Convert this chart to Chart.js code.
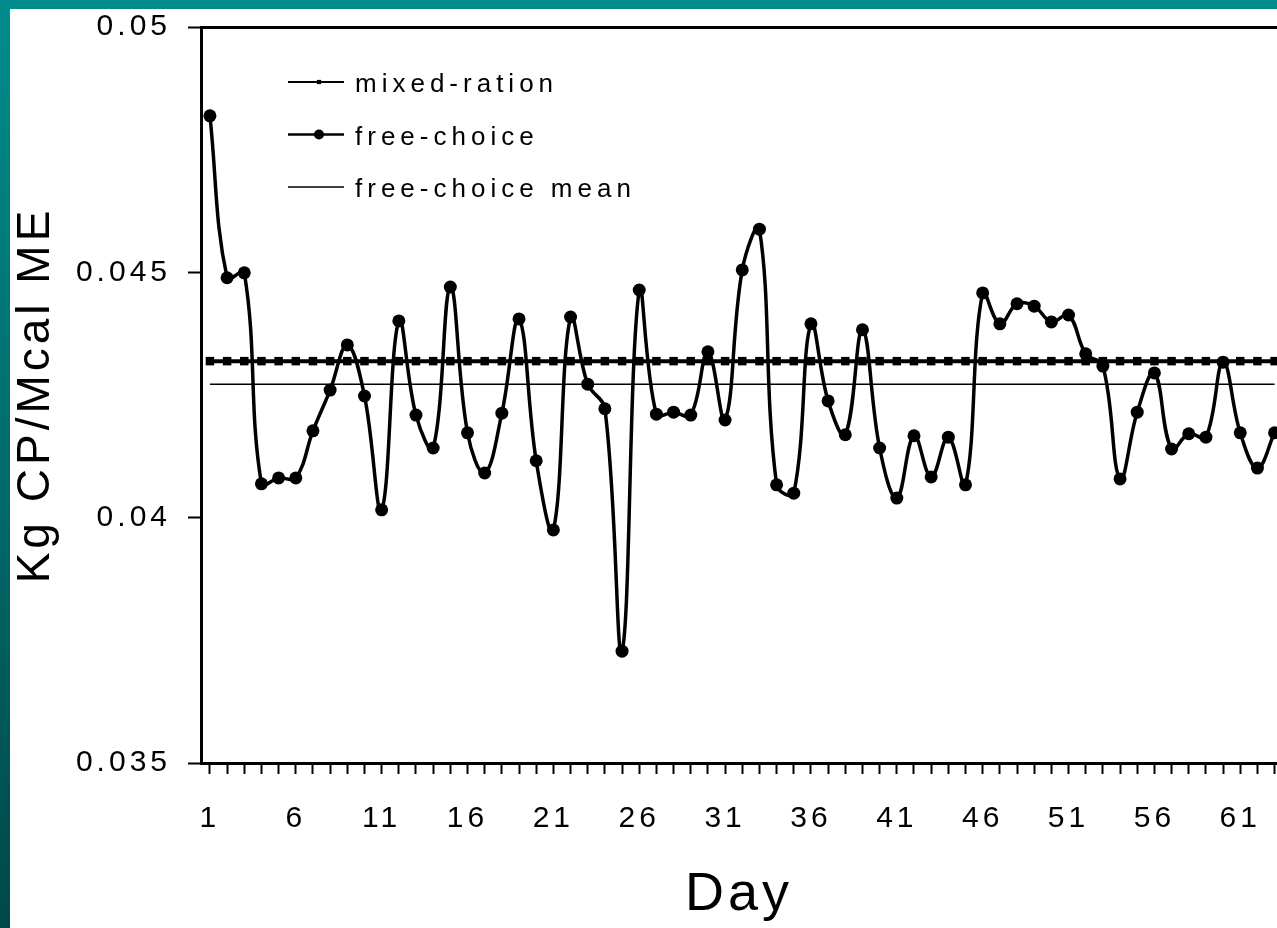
<!DOCTYPE html>
<html>
<head>
<meta charset="utf-8">
<script src="https://cdn.jsdelivr.net/npm/chart.js@4.4.1/dist/chart.umd.min.js"></script>
<style>
  html, body { margin: 0; padding: 0; }
  body {
    width: 1277px; height: 928px; overflow: hidden; position: relative;
    background: linear-gradient(to bottom, #008c8c 0%, #006c6c 50%, #004848 100%);
  }
  .panel { position: absolute; left: 10px; top: 9px; right: 0; bottom: 0; background: #fff; }
  #chart { position: absolute; left: 0; top: 0; }
</style>
</head>
<body>
<div class="panel"></div>
<canvas id="chart" width="1277" height="928"></canvas>
<script>
const FONT = '"Liberation Sans", Arial, Helvetica, sans-serif'

// day index on the x axis
const days = Array.from({ length: 63 }, (_, i) => i + 1)
const xTickLabels = [1, 6, 11, 16, 21, 26, 31, 36, 41, 46, 51, 56, 61]
const yTicks = [0.035, 0.04, 0.045, 0.05]

// Kg CP / Mcal ME per day
const freeChoice = [
  0.04819, 0.04489, 0.04499, 0.04069, 0.04081, 0.04081, 0.04177, 0.04260, 0.04352, 0.04248,
  0.04016, 0.04401, 0.04209, 0.04142, 0.04470, 0.04173, 0.04091, 0.04213, 0.04405, 0.04116,
  0.03975, 0.04409, 0.04272, 0.04222, 0.03728, 0.04464, 0.04211, 0.04215, 0.04209, 0.04338,
  0.04199, 0.04505, 0.04588, 0.04067, 0.04050, 0.04395, 0.04238, 0.04169, 0.04383, 0.04142,
  0.04040, 0.04167, 0.04083, 0.04164, 0.04067, 0.04458, 0.04395, 0.04436, 0.04431, 0.04399,
  0.04413, 0.04334, 0.04309, 0.04079, 0.04215, 0.04295, 0.04140, 0.04171, 0.04164, 0.04317,
  0.04173, 0.04101, 0.04173
]
const mixedRation = 0.04319
const freeChoiceMean = 0.04272

const seriesLabels = ['mixed-ration', 'free-choice', 'free-choice mean']

// canvas letter spacing for axis text
const spacedText = {
  id: 'spacedText',
  beforeDraw(chart) {
    chart.ctx.letterSpacing = '4px'
  }
}

// legend sits inside the plot, one row per series
const innerLegend = {
  id: 'innerLegend',
  afterDraw(chart) {
    const { ctx, chartArea } = chart
    ctx.save()
    ctx.letterSpacing = '5px'
    ctx.font = '26px ' + FONT
    ctx.textAlign = 'left'
    ctx.textBaseline = 'alphabetic'
    chart.data.datasets.forEach((ds, i) => {
      const y = chartArea.top + 55 + i * 52.5
      const x0 = chartArea.left + 87
      const x1 = chartArea.left + 143
      ctx.strokeStyle = '#000'
      ctx.fillStyle = '#000'
      ctx.lineWidth = ds.legendLineWidth
      ctx.beginPath()
      ctx.moveTo(x0, y)
      ctx.lineTo(x1, y)
      ctx.stroke()
      if (ds.legendMarker) {
        Chart.helpers.drawPoint(ctx, {
          pointStyle: ds.pointStyle, radius: ds.legendMarker, rotation: 0, borderWidth: 0
        }, x0 + 31, y)
      }
      ctx.fillText(ds.label, chartArea.left + 154, y + 10)
    })
    ctx.restore()
  }
}

// keep the plot flush with the top margin and the right edge
const noEdgePadding = axis => {
  axis.paddingTop = 0
  axis.paddingBottom = 0
  axis.paddingLeft = 0
  axis.paddingRight = 0
}

const ctx = document.getElementById('chart').getContext('2d')

new Chart(ctx, {
  type: 'line',
  data: {
    datasets: [
      {
        label: seriesLabels[0],
        data: days.map(d => ({ x: d, y: mixedRation })),
        borderColor: '#000',
        backgroundColor: '#000',
        borderWidth: 4,
        pointStyle: 'rect',
        pointRadius: 6,
        pointBorderWidth: 0,
        tension: 0,
        order: 1,
        legendLineWidth: 2,
        legendMarker: 3
      },
      {
        label: seriesLabels[1],
        data: days.map((d, i) => ({ x: d, y: freeChoice[i] })),
        borderColor: '#000',
        backgroundColor: '#000',
        borderWidth: 3.5,
        pointStyle: 'circle',
        pointRadius: 6.5,
        pointBorderWidth: 0,
        tension: 0.4,
        order: 0,
        legendLineWidth: 2.5,
        legendMarker: 5
      },
      {
        label: seriesLabels[2],
        data: days.map(d => ({ x: d, y: freeChoiceMean })),
        borderColor: '#000',
        borderWidth: 1.5,
        pointRadius: 0,
        tension: 0,
        order: 2,
        legendLineWidth: 1.5,
        legendMarker: 0
      }
    ]
  },
  options: {
    responsive: false,
    animation: false,
    layout: { autoPadding: false, padding: { top: 27, left: 0, right: 0, bottom: 0 } },
    plugins: {
      legend: { display: false },
      tooltip: { enabled: false }
    },
    scales: {
      x: {
        type: 'linear',
        min: 0.48,
        max: 63.14,
        afterBuildTicks: axis => { axis.ticks = days.map(d => ({ value: d })) },
        afterFit: axis => { axis.height = 165; noEdgePadding(axis) },
        border: { color: '#000', width: 3 },
        grid: { drawOnChartArea: false, tickLength: 11, tickWidth: 2, tickColor: '#000' },
        ticks: {
          autoSkip: false,
          maxRotation: 0,
          color: '#000',
          padding: 27,
          font: { family: FONT, size: 30 },
          callback: v => xTickLabels.includes(v) ? String(v) : ''
        },
        title: {
          display: true,
          text: 'Day',
          color: '#000',
          font: { family: FONT, size: 54 },
          padding: { top: 0, bottom: 0 }
        }
      },
      y: {
        min: 0.035,
        max: 0.05,
        afterBuildTicks: axis => { axis.ticks = yTicks.map(v => ({ value: v })) },
        afterFit: axis => { axis.width = 201; noEdgePadding(axis) },
        border: { color: '#000', width: 3 },
        grid: {
          color: c => c.tick && c.tick.value === 0.05 ? '#000' : 'rgba(0,0,0,0)',
          lineWidth: 3,
          tickLength: 13,
          tickWidth: 2,
          tickColor: '#000'
        },
        ticks: {
          color: '#000',
          padding: 17,
          font: { family: FONT, size: 30 },
          callback: v => String(v)
        },
        title: {
          display: true,
          text: 'Kg CP/Mcal ME',
          color: '#000',
          font: { family: FONT, size: 46 },
          padding: { top: 9, bottom: 0 }
        }
      }
    }
  },
  plugins: [spacedText, innerLegend]
})
</script>
</body>
</html>
